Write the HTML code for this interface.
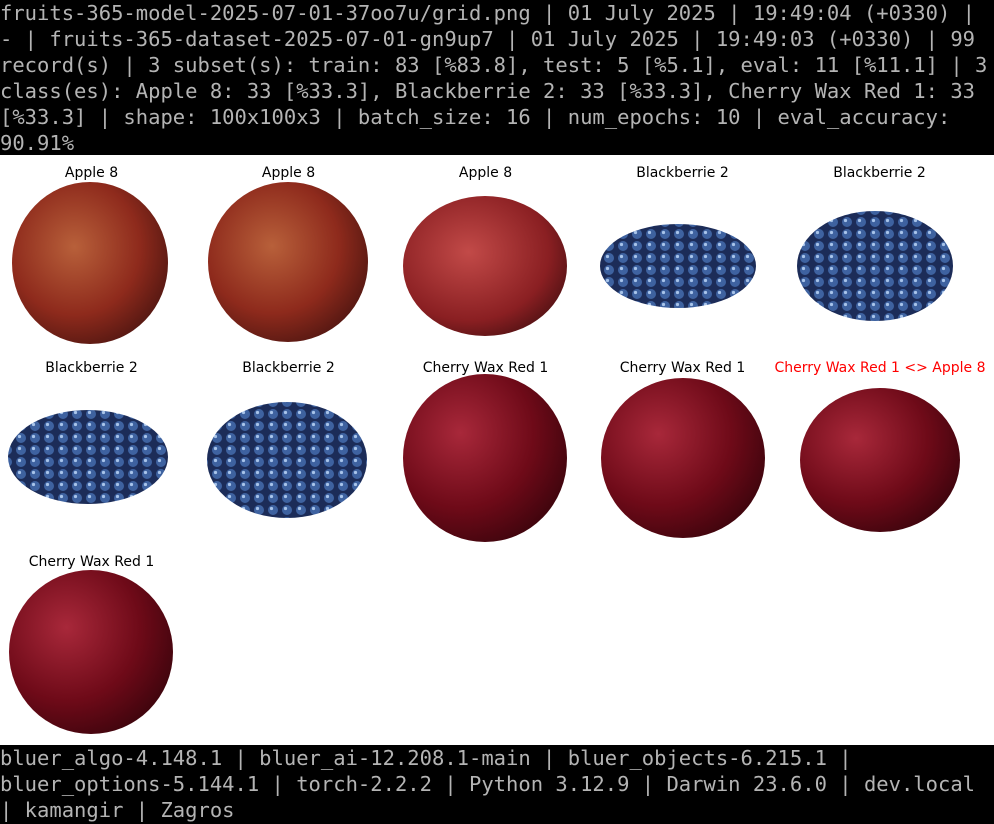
<!DOCTYPE html>
<html><head><meta charset="utf-8">
<style>
body{margin:0;width:994px;height:824px;background:#fff;overflow:hidden;position:relative;font-family:"DejaVu Sans","Liberation Sans",sans-serif}
.bar{position:absolute;left:0;width:994px;background:#000;color:#b4b4b4;font-family:"DejaVu Sans Mono","Liberation Mono",monospace;font-size:20.5px;line-height:26px;white-space:pre;overflow:hidden}
.t{position:absolute;width:197px;text-align:center;font-size:14px;color:#000}
svg{position:absolute;left:0;top:0}
</style></head><body>
<div class="bar" style="top:0;height:155px;padding-top:0">fruits-365-model-2025-07-01-37oo7u/grid.png | 01 July 2025 | 19:49:04 (+0330) |
- | fruits-365-dataset-2025-07-01-gn9up7 | 01 July 2025 | 19:49:03 (+0330) | 99
record(s) | 3 subset(s): train: 83 [%83.8], test: 5 [%5.1], eval: 11 [%11.1] | 3
class(es): Apple 8: 33 [%33.3], Blackberrie 2: 33 [%33.3], Cherry Wax Red 1: 33
[%33.3] | shape: 100x100x3 | batch_size: 16 | num_epochs: 10 | eval_accuracy:
90.91%</div>
<svg width="994" height="824">
<defs>
<radialGradient id="ap" cx="0.4" cy="0.4" r="0.7"><stop offset="0" stop-color="#b8603a"/><stop offset="0.6" stop-color="#8e2a1c"/><stop offset="1" stop-color="#4a1410"/></radialGradient>
<radialGradient id="ap3" cx="0.4" cy="0.4" r="0.7"><stop offset="0" stop-color="#c24a48"/><stop offset="0.7" stop-color="#8a1f22"/><stop offset="1" stop-color="#4a1012"/></radialGradient>
<radialGradient id="ch" cx="0.35" cy="0.35" r="0.75"><stop offset="0" stop-color="#a8283a"/><stop offset="0.6" stop-color="#6e0a18"/><stop offset="1" stop-color="#3a040c"/></radialGradient>
<pattern id="bb" width="14" height="12" patternUnits="userSpaceOnUse"><rect width="14" height="12" fill="#1c2c58"/><circle cx="7" cy="6" r="5" fill="#3e62a0"/><circle cx="5.5" cy="4.5" r="1.6" fill="#a8c4ea"/></pattern>
</defs>
<ellipse cx="90" cy="263" rx="78" ry="81" fill="url(#ap)"/>
<ellipse cx="288" cy="262" rx="80" ry="80" fill="url(#ap)"/>
<ellipse cx="485" cy="266" rx="82" ry="70" fill="url(#ap3)"/>
<ellipse cx="678" cy="266" rx="78" ry="42" fill="url(#bb)"/>
<ellipse cx="875" cy="266" rx="78" ry="55" fill="url(#bb)"/>
<ellipse cx="88" cy="457" rx="80" ry="47" fill="url(#bb)"/>
<ellipse cx="287" cy="460" rx="80" ry="58" fill="url(#bb)"/>
<ellipse cx="485" cy="458" rx="82" ry="84" fill="url(#ch)"/>
<ellipse cx="683" cy="458" rx="82" ry="80" fill="url(#ch)"/>
<ellipse cx="880" cy="460" rx="80" ry="72" fill="url(#ch)"/>
<ellipse cx="91" cy="652" rx="82" ry="82" fill="url(#ch)"/>
</svg>
<div class="t" style="left:-7px;top:165px">Apple 8</div>
<div class="t" style="left:190px;top:165px">Apple 8</div>
<div class="t" style="left:387px;top:165px">Apple 8</div>
<div class="t" style="left:584px;top:165px">Blackberrie 2</div>
<div class="t" style="left:781px;top:165px">Blackberrie 2</div>
<div class="t" style="left:-7px;top:360px">Blackberrie 2</div>
<div class="t" style="left:190px;top:360px">Blackberrie 2</div>
<div class="t" style="left:387px;top:360px">Cherry Wax Red 1</div>
<div class="t" style="left:584px;top:360px">Cherry Wax Red 1</div>
<div class="t" style="left:770px;width:220px;top:360px;color:#f00">Cherry Wax Red 1 &lt;&gt; Apple 8</div>
<div class="t" style="left:-7px;top:554px">Cherry Wax Red 1</div>
<div class="bar" style="top:745px;height:79px">bluer_algo-4.148.1 | bluer_ai-12.208.1-main | bluer_objects-6.215.1 |
bluer_options-5.144.1 | torch-2.2.2 | Python 3.12.9 | Darwin 23.6.0 | dev.local
| kamangir | Zagros</div>
</body></html>
